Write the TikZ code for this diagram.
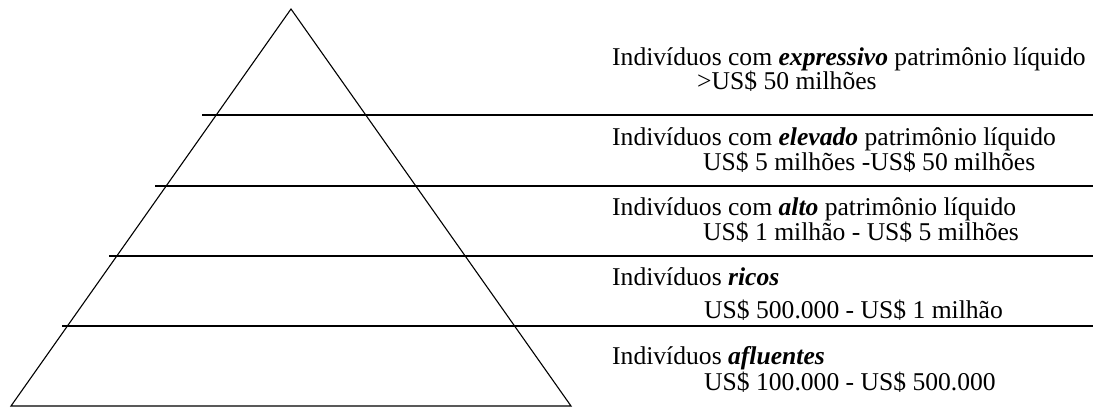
\documentclass[tikz,border=0pt]{standalone}
\usepackage{fontspec}
\setmainfont{Liberation Serif}
\newcommand{\bi}[1]{\textbf{\textit{#1}}}
\begin{document}
\begin{tikzpicture}[x=1pt,y=-1pt,
  edge/.style={line width=1.1pt,line join=miter},
  tier/.style={line width=1.6pt},
  lbl/.style={anchor=base west,inner sep=0pt,font=\fontsize{25.6}{28}\selectfont}]
\useasboundingbox (0,0) rectangle (1104,407);
% pyramid outline
\coordinate (apex) at (291,9);
\coordinate (bl) at (11,406);
\coordinate (br) at (571,406);
\draw[edge] (bl) -- (apex) -- (br) -- cycle;
% tier separators
\foreach \y/\x [count=\i] in {115/202,186/155,256/109,326/62}{
  \coordinate (s\i) at (\x,\y);
  \coordinate (e\i) at (1093,\y);
  \draw[tier] (s\i) -- (e\i);
}
% labels
\node[lbl] (t1a) at (612,65) {Indivíduos com \bi{expressivo} patrimônio líquido};
\node[lbl] (t1b) at (697,89) {>US\$ 50 milhões};
\node[lbl] (t2a) at (612,145) {Indivíduos com \bi{elevado} patrimônio líquido};
\node[lbl] (t2b) at (703,170) {US\$ 5 milhões -US\$ 50 milhões};
\node[lbl] (t3a) at (612,215) {Indivíduos com \bi{alto} patrimônio líquido};
\node[lbl] (t3b) at (703,240) {US\$ 1 milhão - US\$ 5 milhões};
\node[lbl] (t4a) at (612,285) {Indivíduos \bi{ricos}};
\node[lbl] (t4b) at (704,318) {US\$ 500.000 - US\$ 1 milhão};
\node[lbl] (t5a) at (612,364) {Indivíduos \bi{afluentes}};
\node[lbl] (t5b) at (704,390) {US\$ 100.000 - US\$ 500.000};
\end{tikzpicture}
\end{document}
